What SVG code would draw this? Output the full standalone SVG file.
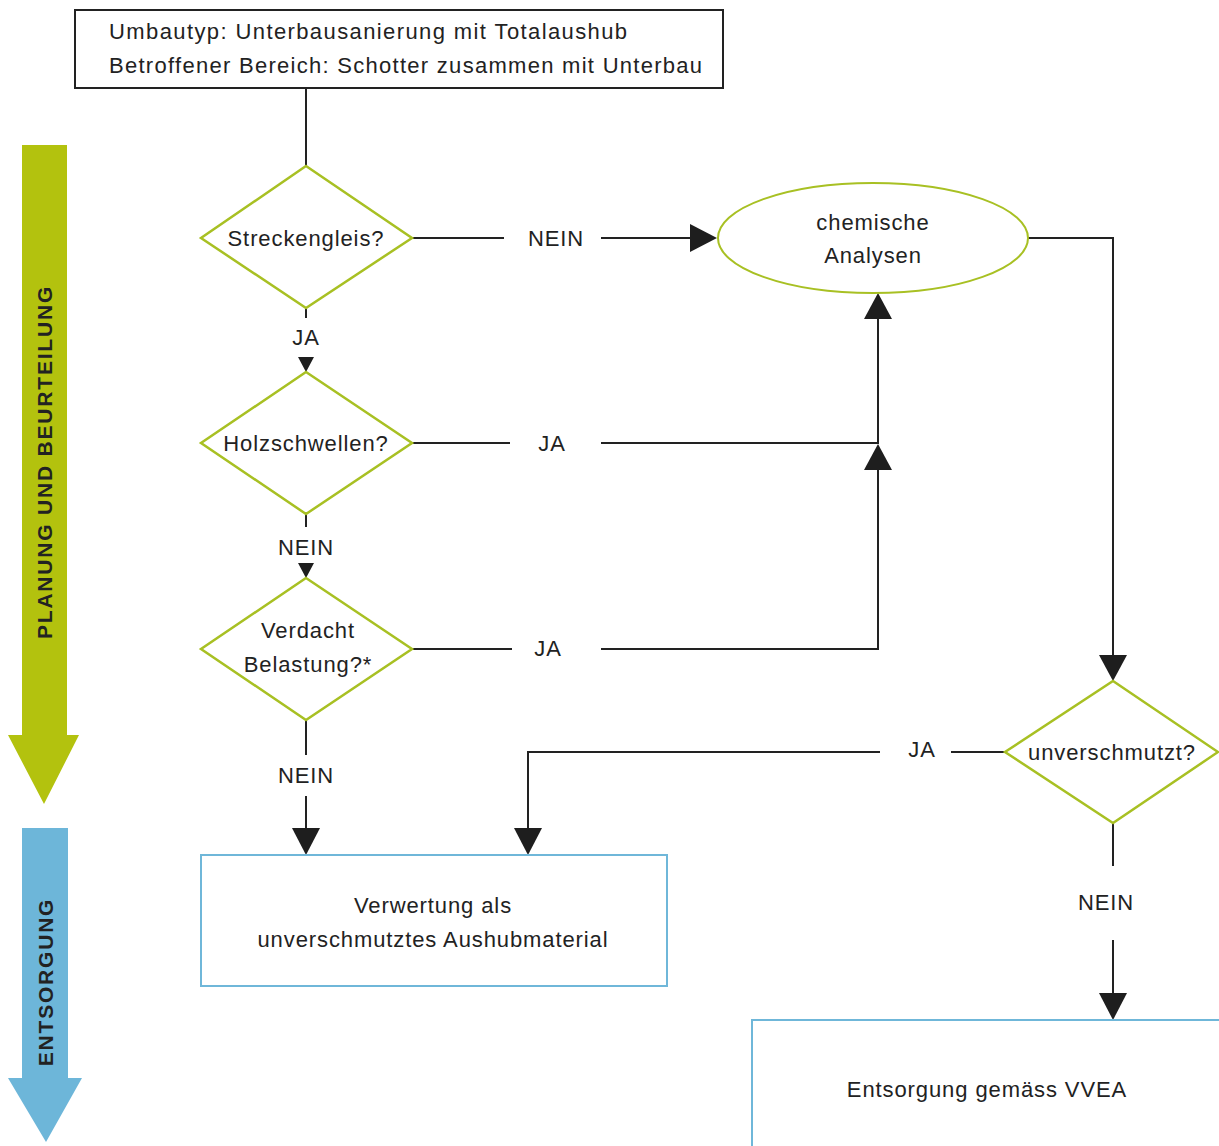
<svg xmlns="http://www.w3.org/2000/svg" width="1219" height="1146" viewBox="0 0 1219 1146">
<defs>
<style>
text{font-family:"Liberation Sans",Arial,sans-serif;fill:#222;font-size:22px;letter-spacing:0.9px}
.c{text-anchor:middle;dominant-baseline:central}
.ln{stroke:#222;stroke-width:2;fill:none}
.dia{fill:#fff;stroke:#a8c023;stroke-width:2.5}
.box{fill:#fff;stroke:#6fb7d9;stroke-width:2}
.hd{fill:#1e1e1e}
.band{font-weight:bold;font-size:21px;letter-spacing:1.8px;fill:#222}
</style>
</defs>
<rect width="1219" height="1146" fill="#fff"/>
<g id="band-planung">
<polygon points="22,145 67,145 67,735 79,735 44,804 8,735 22,735" fill="#b3c20e"/>
<text class="band c" transform="translate(44,462) rotate(-90)">PLANUNG UND BEURTEILUNG</text>
</g>
<g id="band-entsorgung">
<polygon points="22,828 68,828 68,1078 82,1078 46,1142 8,1078 22,1078" fill="#6db6d9"/>
<text class="band c" transform="translate(45,982) rotate(-90)">ENTSORGUNG</text>
</g>
<g id="connectors">
<path class="ln" d="M306,88 V166"/>
<path class="ln" d="M412,238 H504 M601,238 H692"/>
<polygon class="hd" points="690,224 717,238 690,252"/>
<path class="ln" d="M306,308 V318 M306,359 V365"/>
<polygon class="hd" points="298,357 314,357 306,372"/>
<path class="ln" d="M412,443 H510 M601,443 H878 V318"/>
<polygon class="hd" points="864,319 892,319 878,293"/>
<path class="ln" d="M306,514 V527 M306,565 V571"/>
<polygon class="hd" points="298,563 314,563 306,578"/>
<path class="ln" d="M412,649 H512 M601,649 H878 V468"/>
<polygon class="hd" points="864,470 892,470 878,444"/>
<path class="ln" d="M306,720 V755 M306,796 V830"/>
<polygon class="hd" points="292,828 320,828 306,855"/>
<path class="ln" d="M1028,238 H1113 V657"/>
<polygon class="hd" points="1099,655 1127,655 1113,681"/>
<path class="ln" d="M1005,752 H951 M880,752 H528 V830"/>
<polygon class="hd" points="514,828 542,828 528,855"/>
<path class="ln" d="M1113,823 V866 M1113,940 V995"/>
<polygon class="hd" points="1099,993 1127,993 1113,1020"/>
<text class="c" x="556" y="238">NEIN</text>
<text class="c" x="306" y="337">JA</text>
<text class="c" x="552" y="443">JA</text>
<text class="c" x="306" y="547">NEIN</text>
<text class="c" x="548" y="648">JA</text>
<text class="c" x="306" y="775">NEIN</text>
<text class="c" x="922" y="749">JA</text>
<text class="c" x="1106" y="902">NEIN</text>
</g>
<g id="start">
<rect x="75" y="10" width="648" height="78" fill="#fff" stroke="#222" stroke-width="2"/>
<text x="109" y="31" dominant-baseline="central" textLength="519" lengthAdjust="spacing">Umbautyp: Unterbausanierung mit Totalaushub</text>
<text x="109" y="65" dominant-baseline="central" textLength="594" lengthAdjust="spacing">Betroffener Bereich: Schotter zusammen mit Unterbau</text>
</g>
<g id="d-streckengleis">
<polygon class="dia" points="306,166 412,238 306,308 201,238"/>
<text class="c" x="306" y="238">Streckengleis?</text>
</g>
<g id="chem">
<ellipse cx="873" cy="238" rx="155" ry="55" fill="#fff" stroke="#a8c023" stroke-width="2"/>
<text class="c" x="873" y="222">chemische</text>
<text class="c" x="873" y="255">Analysen</text>
</g>
<g id="d-holz">
<polygon class="dia" points="306,372 412,443 306,514 201,443"/>
<text class="c" x="306" y="443">Holzschwellen?</text>
</g>
<g id="d-verdacht">
<polygon class="dia" points="306,578 412,649 306,720 201,649"/>
<text class="c" x="308" y="630">Verdacht</text>
<text class="c" x="308" y="664">Belastung?*</text>
</g>
<g id="d-unverschmutzt">
<polygon class="dia" points="1113,681 1218,752 1113,823 1005,752"/>
<text class="c" x="1112" y="752">unverschmutzt?</text>
</g>
<g id="verwertung">
<rect class="box" x="201" y="855" width="466" height="131"/>
<text class="c" x="433" y="905">Verwertung als</text>
<text class="c" x="433" y="939">unverschmutztes Aushubmaterial</text>
</g>
<g id="entsorgung">
<rect class="box" x="752" y="1020" width="470" height="130"/>
<text class="c" x="987" y="1089">Entsorgung gemäss VVEA</text>
</g>
</svg>
